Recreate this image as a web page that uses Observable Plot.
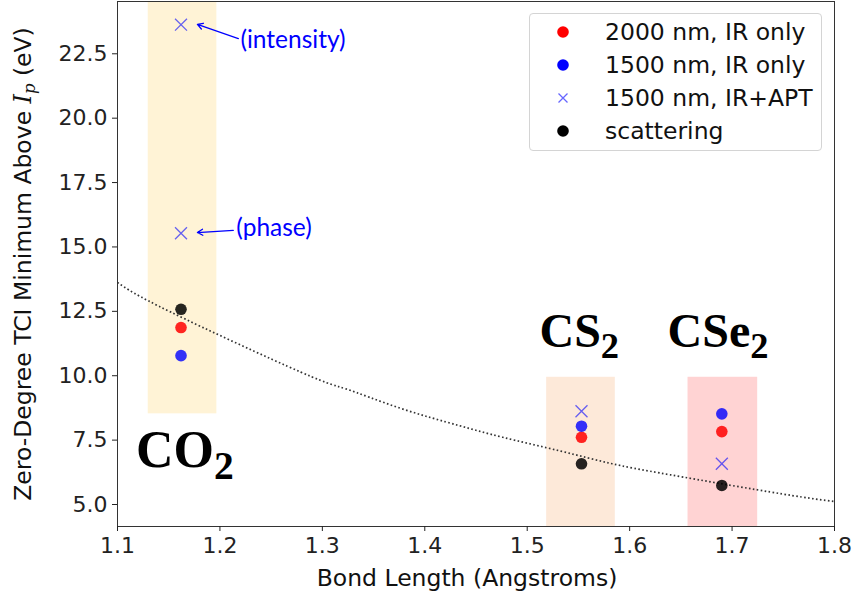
<!DOCTYPE html>
<html>
<head>
<meta charset="utf-8">
<script src="https://cdn.jsdelivr.net/npm/d3@7"></script>
<script src="https://cdn.jsdelivr.net/npm/@observablehq/plot@0.6"></script>
<style>
  html, body { margin: 0; padding: 0; background: white; }
  #wrap { position: relative; width: 855px; height: 598px; }
  #legend { position: absolute; left: 529px; top: 13px; width: 293px; height: 138px;
    border: 1px solid #d4d4d4; border-radius: 4px; background: rgba(255,255,255,0.85);
    font-family: "DejaVu Sans"; font-size: 23.5px; color: #111; box-sizing: border-box; padding-top: 2px; }
  .lrow { position: relative; height: 33px; }
  .lrow svg { position: absolute; left: 23px; top: 6px; }
  .lrow span { position: absolute; left: 75px; top: 50%; transform: translateY(-53%); white-space: nowrap; }
</style>
</head>
<body>
<div id="wrap"></div>
<script>
// ---- data ----
const molecules = ["CO2", "CS2", "CSe2"];
const bondLength = [1.162, 1.553, 1.690];
const ir2000 = [11.87, 7.61, 7.83];      // 2000 nm, IR only
const ir1500 = [10.78, 8.04, 8.52];      // 1500 nm, IR only
const scattering = [12.58, 6.58, 5.74];  // scattering
const aptX = [1.162, 1.162, 1.553, 1.690]; // 1500 nm, IR+APT
const aptY = [15.53, 23.63, 8.62, 6.58];

// shaded bands behind each molecule
const bandX1 = [1.130, 1.519, 1.657];
const bandX2 = [1.197, 1.586, 1.725];
const bandY1 = [8.52, 4.146, 4.146];
const bandY2 = [24.53, 9.94, 9.94];
const bandColors = ["#fff3d6", "#fde9d9", "#ffd3d3"];

// dotted fit curve, read point by point
const fitX = [1.100, 1.152, 1.279, 1.323, 1.376, 1.433, 1.476, 1.533, 1.581, 1.640, 1.749, 1.800];
const fitY = [13.62, 12.47, 10.14, 9.49, 8.74, 8.07, 7.61, 7.07, 6.60, 6.15, 5.41, 5.12];

// molecule labels
const labelMain = ["CO", "CS", "CSe"];
const labelSub = ["2", "2", "2"];
const labelX = [1.118, 1.512, 1.637];
const labelY = [6.45, 11.10, 11.10];
const labelSize = [52, 48, 48];

// annotations
const annText = ["(intensity)", "(phase)"];
const annTextX = [1.220, 1.216];
const annTextY = [23.02, 15.72];
const annTailX = [1.218, 1.213];
const annTailY = [23.09, 15.64];
const annHeadX = [1.178, 1.178];
const annHeadY = [23.64, 15.56];

const xTicks = [1.1, 1.2, 1.3, 1.4, 1.5, 1.6, 1.7, 1.8];
const yTicks = [5.0, 7.5, 10.0, 12.5, 15.0, 17.5, 20.0, 22.5];
const xLabel = "Bond Length (Angstroms)";
const yLabel = "Zero-Degree TCI Minimum Above";

const legendLabels = ["2000 nm, IR only", "1500 nm, IR only", "1500 nm, IR+APT", "scattering"];
const legendColors = ["#ff0000", "#0000ff", "#0000ff", "#000000"];
const legendSymbols = ["circle", "circle", "times", "circle"];

// ---- build tables ----
const bands = molecules.map((m, i) => ({x1: bandX1[i], x2: bandX2[i], y1: bandY1[i], y2: bandY2[i], fill: bandColors[i]}));
const fit = fitX.map((x, i) => ({x, y: fitY[i]}));
const red = molecules.map((m, i) => ({x: bondLength[i], y: ir2000[i]}));
const blue = molecules.map((m, i) => ({x: bondLength[i], y: ir1500[i]}));
const black = molecules.map((m, i) => ({x: bondLength[i], y: scattering[i]}));
const apt = aptX.map((x, i) => ({x, y: aptY[i]}));
const labels = molecules.map((m, i) => ({x: labelX[i], y: labelY[i], t: labelMain[i], s: labelSub[i], size: labelSize[i]}));
const ann = annText.map((t, i) => ({t, x: annTextX[i], y: annTextY[i], x1: annTailX[i], y1: annTailY[i], x2: annHeadX[i], y2: annHeadY[i]}));

const chart = Plot.plot({
  width: 855, height: 598,
  marginLeft: 117, marginRight: 21, marginTop: 1, marginBottom: 72,
  x: {domain: [1.1, 1.8]},
  y: {domain: [4.146, 24.53]},
  style: {fontFamily: "DejaVu Sans", fontSize: "22px", color: "#222", background: "white"},
  marks: [
    Plot.rect(bands, {x1: "x1", x2: "x2", y1: "y1", y2: "y2", fill: "fill"}),
    Plot.line(fit, {x: "x", y: "y", curve: "natural", stroke: "#333", strokeWidth: 1.7, strokeDasharray: "1.6,2.4", strokeLinecap: "butt"}),
    Plot.dot(red, {x: "x", y: "y", r: 5.8, fill: "#ff0000", fillOpacity: 0.85}),
    Plot.dot(blue, {x: "x", y: "y", r: 5.8, fill: "#0000ff", fillOpacity: 0.8}),
    Plot.dot(apt, {x: "x", y: "y", r: 5.5, symbol: "times", stroke: "#0000ff", strokeOpacity: 0.6, strokeWidth: 1.3}),
    Plot.dot(black, {x: "x", y: "y", r: 5.8, fill: "#000000", fillOpacity: 0.85}),
    Plot.arrow(ann, {x1: "x1", y1: "y1", x2: "x2", y2: "y2", stroke: "#0000ff", strokeWidth: 1.3, headLength: 7}),
    Plot.text(ann, {x: "x", y: "y", text: "t", textAnchor: "start", fill: "#0000ff", fontFamily: "Lato", fontSize: 24.5}),
    Plot.text(labels, {x: "x", y: "y", text: "t", textAnchor: "start", lineAnchor: "bottom", fontFamily: "Liberation Serif", fontWeight: "bold", fontSize: "size", fill: "#000"}),
    Plot.frame({stroke: "#333", strokeWidth: 1}),
    Plot.axisX({ticks: xTicks, tickFormat: d3.format(".1f"), tickSize: 5, tickPadding: 6, label: null, fontSize: 22}),
    Plot.axisY({ticks: yTicks, tickFormat: d3.format(".1f"), tickSize: 5, tickPadding: 5, label: null, fontSize: 22}),
    Plot.text([xLabel], {text: d => d, frameAnchor: "bottom", textAnchor: "middle", lineAnchor: "middle", dy: 52, dx: -9, fontSize: 23.5, fill: "#111"}),
    Plot.text([yLabel], {text: d => d, frameAnchor: "left", textAnchor: "middle", lineAnchor: "middle", rotate: -90, dx: -94, fontSize: 23.5, fill: "#111"})
  ]
});

// subscripts in molecule labels; math I_p in y label
d3.select(chart).selectAll("text").each(function() {
  const el = d3.select(this);
  const t = this.textContent;
  const i = labelMain.indexOf(t);
  if (i >= 0) {
    el.append("tspan").attr("font-size", "0.76em").attr("dy", "0.3em").text(labelSub[i]);
  } else if (t === yLabel) {
    el.append("tspan").text(" ");
    el.append("tspan").attr("font-family", "DejaVu Serif").attr("font-style", "italic").text("I");
    el.append("tspan").attr("font-family", "DejaVu Serif").attr("font-style", "italic").attr("font-size", "0.7em").attr("dy", "0.25em").text("p");
    el.append("tspan").attr("dy", "-0.18em").text(" (eV)");
  }
});

const wrap = document.getElementById("wrap");
wrap.appendChild(chart);

// legend
const legend = document.createElement("div");
legend.id = "legend";
legendLabels.forEach((lab, i) => {
  const row = document.createElement("div");
  row.className = "lrow";
  const mark = legendSymbols[i] === "circle"
    ? `<circle cx="10" cy="10" r="5.8" fill="${legendColors[i]}"/>`
    : `<path d="M5.5,5.5L14.5,14.5M14.5,5.5L5.5,14.5" stroke="${legendColors[i]}" stroke-opacity="0.6" stroke-width="1.3"/>`;
  row.innerHTML = `<svg width="20" height="20">${mark}</svg><span>${lab}</span>`;
  legend.appendChild(row);
});
wrap.appendChild(legend);
</script>
</body>
</html>
